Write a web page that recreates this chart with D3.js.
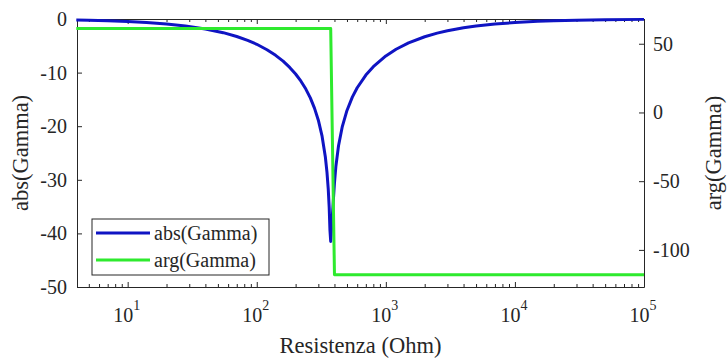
<!DOCTYPE html>
<html>
<head>
<meta charset="utf-8">
<script src="https://cdn.jsdelivr.net/npm/d3@7/dist/d3.min.js"></script>
<style>
  body { margin: 0; background: #fff; }
  svg text { fill: #262626; }
</style>
</head>
<body>
<svg id="chart" width="727" height="358"></svg>
<script>
// Resistance sweep (Ohm) and reflection-coefficient magnitude (dB)
const resistance = [4, 5, 7, 10, 14, 20, 28, 40, 55, 70, 85, 100, 120, 140, 160, 180, 200, 220, 240, 260, 280, 300, 320, 340, 350, 358, 364, 369, 374,
  400, 410, 430, 460, 500, 550, 600, 700, 800, 1000, 1200, 1500, 2000, 2500, 3000, 4000, 5000, 7000, 10000, 15000, 20000, 30000, 50000, 100000];
const absGammaDb = [-0.18, -0.23, -0.32, -0.46, -0.65, -0.92, -1.29, -1.85, -2.55, -3.26, -3.99, -4.72, -5.73, -6.78, -7.87, -9.03, -10.26, -11.6, -13.07, -14.72, -16.62, -18.88, -21.75, -25.75, -28.6, -31.75, -35.12, -39.39, -41.5,
  -30.6, -27.55, -23.65, -20.07, -17.06, -14.58, -12.83, -10.46, -8.89, -6.89, -5.65, -4.46, -3.31, -2.64, -2.2, -1.64, -1.31, -0.94, -0.66, -0.44, -0.33, -0.22, -0.13, -0.07];

// Phase of the reflection coefficient (degrees)
const phaseResistance = [4, 374, 400, 100000];
const argGammaDeg = [61, 61, -118, -118];

const xMajorTicks = [10, 100, 1000, 10000, 100000];
const xTickExponents = ["1", "2", "3", "4", "5"];
const leftTicks = [0, -10, -20, -30, -40, -50];
const rightTicks = [50, 0, -50, -100];
const seriesNames = ["abs(Gamma)", "arg(Gamma)"];
const seriesColors = ["#0f14c3", "#2eea2e"];

const FONT = "'Liberation Serif', LiberationSerif, 'DejaVu Serif', DejaVuSerif, Tinos, 'Nimbus Roman', 'Nimbus Roman No9 L', FreeSerif, 'Times New Roman', Times, Georgia, serif";
const svg = d3.select("#chart");
const plot = { left: 77, right: 644, top: 19, bottom: 287 };
const axisColor = "#262626";

const x = d3.scaleLog().domain([4.05, 100000]).range([plot.left, plot.right]);
const yLeft = d3.scaleLinear().domain([-50, 0]).range([plot.bottom, plot.top]);
const yRight = d3.scaleLinear().domain([-127, 68]).range([plot.bottom, plot.top]);

const xMinor = x.ticks().filter(v => !xMajorTicks.includes(v) && v > x.domain()[0]);

function styleAxis(g) {
  g.attr("font-family", FONT);
  g.selectAll("path.domain").attr("stroke", axisColor).attr("stroke-width", 1);
  g.selectAll(".tick line").attr("stroke", axisColor).attr("stroke-width", 1);
}

// Bottom and top x-axes: major + minor log ticks pointing inward
[[plot.bottom, d3.axisBottom], [plot.top, d3.axisTop]].forEach(([yPos, fn]) => {
  const major = svg.append("g").attr("transform", `translate(0,${yPos})`)
    .call(fn(x).tickValues(xMajorTicks).tickSizeInner(-5).tickSizeOuter(0).tickFormat(""));
  styleAxis(major);
  const minor = svg.append("g").attr("transform", `translate(0,${yPos})`)
    .call(fn(x).tickValues(xMinor).tickSizeInner(-3).tickSizeOuter(0).tickFormat(""));
  styleAxis(minor);
  minor.select("path.domain").remove();
});

// x tick labels as powers of ten
const xLabels = svg.append("g").attr("font-family", FONT);
xMajorTicks.forEach((v, i) => {
  const t = xLabels.append("text")
    .attr("x", x(v) - 1)
    .attr("y", 322)
    .attr("text-anchor", "middle")
    .attr("font-family", FONT)
    .attr("font-size", 20);
  t.append("tspan").text("10");
  t.append("tspan").attr("dy", -12).attr("font-size", 14).text(xTickExponents[i]);
});

// Left y-axis
const gLeft = svg.append("g").attr("transform", `translate(${plot.left},0)`)
  .call(d3.axisLeft(yLeft).tickValues(leftTicks).tickSizeInner(-5).tickSizeOuter(0).tickPadding(10).tickFormat(d3.format("d")));
styleAxis(gLeft);
gLeft.selectAll(".tick text").attr("font-family", FONT).attr("font-size", 20).attr("fill", axisColor)
  .text(d => d < 0 ? "-" + Math.abs(d) : d);

// Right y-axis
const gRight = svg.append("g").attr("transform", `translate(${plot.right},0)`)
  .call(d3.axisRight(yRight).tickValues(rightTicks).tickSizeInner(-5).tickSizeOuter(0).tickPadding(9).tickFormat(d3.format("d")));
styleAxis(gRight);
gRight.selectAll(".tick text").attr("font-family", FONT).attr("font-size", 20).attr("fill", axisColor)
  .text(d => d < 0 ? "-" + Math.abs(d) : d);

// Axis titles
const titles = svg.append("g").attr("font-family", FONT).attr("font-size", 22.5).attr("text-anchor", "middle");
titles.append("text")
  .attr("x", (plot.left + plot.right) / 2).attr("y", 353)
  .text("Resistenza (Ohm)");
titles.append("text")
  .attr("transform", `translate(28,${(plot.top + plot.bottom) / 2}) rotate(-90)`)
  .text("abs(Gamma)");
titles.append("text")
  .attr("transform", `translate(721,${(plot.top + plot.bottom) / 2}) rotate(-90)`)
  .text("arg(Gamma)");

// Series lines
const absLine = d3.line().x((d, i) => x(resistance[i])).y(d => yLeft(d));
svg.append("path").datum(absGammaDb)
  .attr("d", absLine).attr("fill", "none")
  .attr("stroke", seriesColors[0]).attr("stroke-width", 3).attr("stroke-linejoin", "round");

const argLine = d3.line().x((d, i) => x(phaseResistance[i])).y(d => yRight(d));
svg.append("path").datum(argGammaDeg)
  .attr("d", argLine).attr("fill", "none")
  .attr("stroke", seriesColors[1]).attr("stroke-width", 3).attr("stroke-linejoin", "round");

// Legend
const legend = svg.append("g").attr("font-family", FONT);
legend.append("rect").attr("x", 92).attr("y", 219).attr("width", 177).attr("height", 56)
  .attr("fill", "#fff").attr("stroke", axisColor).attr("stroke-width", 1);
seriesNames.forEach((name, i) => {
  const yy = 233 + i * 27;
  legend.append("line").attr("x1", 96).attr("x2", 150).attr("y1", yy).attr("y2", yy)
    .attr("stroke", seriesColors[i]).attr("stroke-width", 3);
  legend.append("text").attr("x", 154).attr("y", yy).attr("dy", "0.35em")
    .attr("font-size", 20).text(name);
});
</script>
</body>
</html>
